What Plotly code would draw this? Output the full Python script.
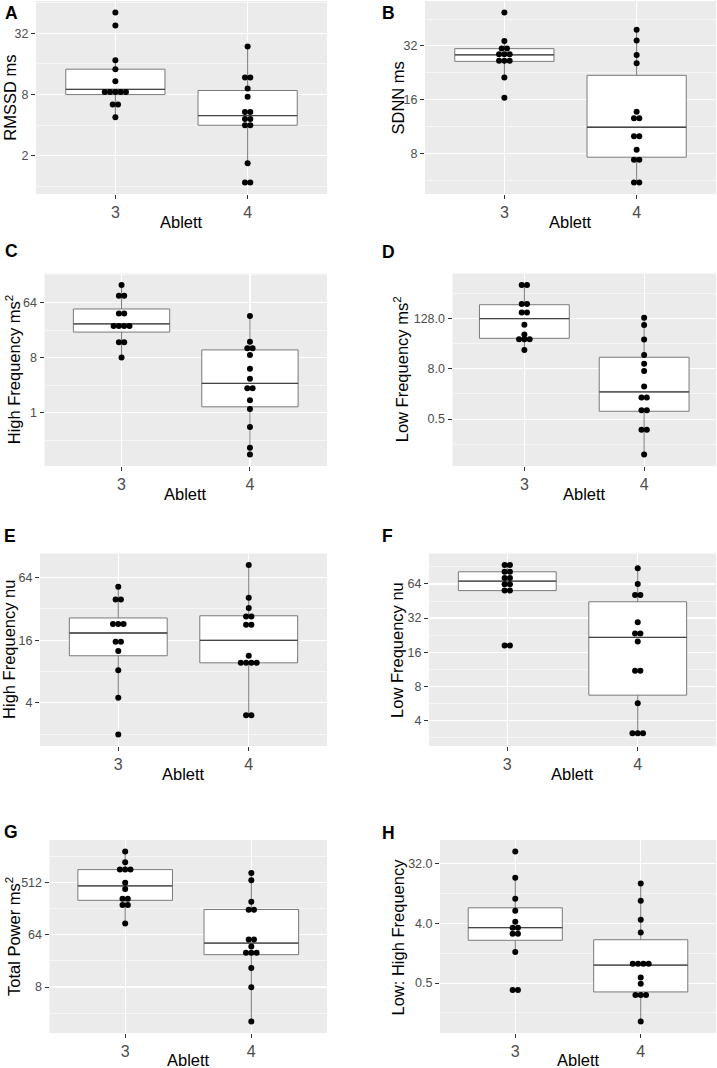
import numpy as np
import plotly.graph_objects as go

W, H = 717, 1068
FONT = "Liberation Sans, Arial, sans-serif"

# ---------------- data ----------------
GROUPS = [3, 4]
XTICKTEXT = ["3", "4"]
XTITLE = "Ablett"
LETTERS = ["A", "B", "C", "D", "E", "F", "G", "H"]
YTITLES = ["RMSSD ms", "SDNN ms", "High Frequency ms<sup>2</sup>",
           "Low Frequency ms<sup>2</sup>", "High Frequency nu",
           "Low Frequency nu", "Total Power ms<sup>2</sup>",
           "Low: High Frequency"]

A3 = [51, 38, 17.4, 14.2, 10.8, 9.0, 9.0, 8.6, 8.3, 8.0, 6.4, 6.4, 4.8]
A4 = [23.7, 11.8, 11.8, 9.2, 7.6, 5.4, 5.4, 4.6, 4.6, 4.0, 4.0, 1.7, 1.1, 1.1]
B3 = [49.2, 34.1, 31.2, 30.8, 29.0, 28.7, 28.4, 26.8, 26.3, 26.0, 21.3, 16.4]
B4 = [39.4, 34.3, 28.5, 25.6, 13.7, 12.6, 12.6, 9.97, 9.97, 8.39, 7.37, 7.37, 5.5, 5.5]
C3 = [123, 82.3, 82.3, 42.3, 42.3, 29.2, 27.9, 26.0, 23.8, 14.2, 14.2, 8.05]
C4 = [38.2, 14.5, 11.4, 11.4, 8.79, 5.25, 3.60, 2.53, 2.53, 1.61, 1.15, 0.583, 0.268, 0.208]
D3 = [803, 803, 305, 262, 178, 178, 90.3, 53.0, 43.7, 40.2, 38.0, 22.4]
D4 = [133, 88.6, 40.3, 17.0, 10.5, 7.04, 3.02, 1.65, 1.65, 0.90, 0.73, 0.278, 0.278, 0.0714]
E3 = [52.1, 39.3, 39.3, 22.8, 22.8, 22.8, 15.4, 15.4, 12.6, 8.24, 4.47, 1.99]
E4 = [84.1, 40.8, 32.5, 27.9, 26.0, 22.5, 22.5, 11.3, 9.69, 9.69, 9.69, 9.69, 3.04, 3.04]
F3 = [94, 94, 82, 82, 72.3, 72.3, 63.6, 63.6, 55.9, 55.9, 18.3, 18.3]
F4 = [88, 64, 51.2, 51.2, 29.4, 23.4, 23.4, 19.9, 10.96, 10.96, 5.65, 3.15, 3.05, 3.0]
G3 = [1769, 1155, 870, 861, 855, 512, 397, 270, 270, 210, 210, 101]
G4 = [754, 562, 240, 178, 169, 53.1, 53.1, 40.1, 34.3, 29.9, 28.8, 17.1, 7.9, 2.03]
H3 = [48.1, 19.4, 9.34, 6.15, 4.2, 3.46, 3.39, 3.03, 2.53, 1.47, 0.392, 0.392]
H4 = [15.9, 8.71, 4.49, 2.89, 1.064, 1.0, 0.966, 0.901, 0.609, 0.489, 0.334, 0.329, 0.325, 0.132]

YTICKS_A = [2, 8, 32];        YLAB_A = ["2", "8", "32"]
YTICKS_B = [8, 16, 32];       YLAB_B = ["8", "16", "32"]
YTICKS_C = [1, 8, 64];        YLAB_C = ["1", "8", "64"]
YTICKS_D = [0.5, 8, 128];     YLAB_D = ["0.5", "8.0", "128.0"]
YTICKS_E = [4, 16, 64];       YLAB_E = ["4", "16", "64"]
YTICKS_F = [4, 8, 16, 32, 64]; YLAB_F = ["4", "8", "16", "32", "64"]
YTICKS_G = [8, 64, 512];      YLAB_G = ["8", "64", "512"]
YTICKS_H = [0.5, 4, 32];      YLAB_H = ["0.5", "4.0", "32.0"]

DATA = [(A3, A4), (B3, B4), (C3, C4), (D3, D4), (E3, E4), (F3, F4), (G3, G4), (H3, H4)]
YTICKS = [YTICKS_A, YTICKS_B, YTICKS_C, YTICKS_D, YTICKS_E, YTICKS_F, YTICKS_G, YTICKS_H]
YLABS = [YLAB_A, YLAB_B, YLAB_C, YLAB_D, YLAB_E, YLAB_F, YLAB_G, YLAB_H]

# ---------------- layout geometry (pixels) ----------------
# plot area: x0, x1, ytop, ybottom
DOM = [(36, 327, 1, 194), (425, 716, 1, 194),
       (44.5, 327, 273.5, 466), (452.5, 716, 273.5, 466),
       (40, 327, 553.5, 746), (429, 716, 553.5, 746),
       (49.5, 327, 840, 1033), (440, 716, 840, 1033)]
YTITLE_X = [9.2, 397, 12.5, 400.5, 9.2, 397.2, 12.5, 397]
XTITLE_Y = [221.7, 221.7, 494, 494, 774.3, 774.3, 1059.5, 1059.5]
LETTER_POS = [(11.7, 12.8), (388, 12.8), (11, 251), (388, 252),
              (10, 535.5), (387, 535.5), (10.8, 832), (388, 832.5)]

BG = "#EBEBEB"
BOXLINE = "#7a7a7a"
MEDLINE = "#454545"
DOT_PX = 5.3
DOT_SIZE = 6
XR = [2.4, 4.6]

fig = go.Figure()
layout = {}
annotations = []

for i, (g3, g4) in enumerate(DATA):
    n = i + 1
    xa, ya = ("x", "y") if n == 1 else (f"x{n}", f"y{n}")
    x0, x1, yt, yb = DOM[i]
    allv = np.log2(np.array(g3 + g4, float))
    lo, hi = allv.min(), allv.max()
    R = hi - lo
    bw = R / 30.0
    pad = R / 60.0 + 0.05 * R * (1 + 1 / 30.0)
    yr = [(lo - pad) * np.log10(2), (hi + pad) * np.log10(2)]
    ppu = (x1 - x0) / (XR[1] - XR[0])
    dx = DOT_PX / ppu

    for g, vals in zip(GROUPS, (g3, g4)):
        lv = np.log2(np.array(vals, float))
        q1, med, q3 = np.percentile(lv, [25, 50, 75])
        iqr = q3 - q1
        up = lv[lv <= q3 + 1.5 * iqr].max()
        low = lv[lv >= q1 - 1.5 * iqr].min()
        fig.add_trace(go.Box(x=[g], q1=[2 ** q1], median=[2 ** med], q3=[2 ** q3],
                             lowerfence=[2 ** low], upperfence=[2 ** up],
                             orientation="v", width=0.75, fillcolor="white",
                             line=dict(color=BOXLINE, width=1), whiskerwidth=0,
                             boxpoints=False, xaxis=xa, yaxis=ya,
                             showlegend=False, hoverinfo="skip"))
        fig.add_trace(go.Scatter(x=[g - 0.375, g + 0.375], y=[2 ** med, 2 ** med],
                                 mode="lines", line=dict(color=MEDLINE, width=1.3),
                                 xaxis=xa, yaxis=ya, showlegend=False, hoverinfo="skip"))
        # dot-density binning (as ggplot geom_dotplot, binaxis = y, stackdir = center)
        srt = np.sort(lv)
        bins, end = [], -np.inf
        for v in srt:
            if v >= end:
                bins.append([v])
                end = v + bw
            else:
                bins[-1].append(v)
        xs, ys = [], []
        for b in bins:
            c = (min(b) + max(b)) / 2
            m = len(b)
            for k in range(m):
                xs.append(g + (k - (m - 1) / 2) * dx)
                ys.append(2 ** c)
        fig.add_trace(go.Scatter(x=xs, y=ys, mode="markers",
                                 marker=dict(size=DOT_SIZE, color="black", line=dict(width=0)),
                                 xaxis=xa, yaxis=ya, showlegend=False, hoverinfo="skip",
                                 cliponaxis=False))

    majors = np.log2(np.array(YTICKS[i], float))
    step = majors[1] - majors[0]
    ext = np.concatenate([[majors[0] - step], majors, [majors[-1] + step]])
    minors = [2 ** ((a + b) / 2) for a, b in zip(ext[:-1], ext[1:])]

    layout[f"xaxis{n if n > 1 else ''}"] = dict(
        domain=[x0 / W, x1 / W], range=XR, anchor=ya, tickmode="array",
        tickvals=GROUPS, ticktext=XTICKTEXT, showgrid=True, gridcolor="white",
        gridwidth=1.1, zeroline=False, showline=False, ticks="outside", ticklen=4,
        tickwidth=1, tickcolor="#333333",
        tickfont=dict(family=FONT, size=16, color="#4D4D4D"), fixedrange=True)
    layout[f"yaxis{n if n > 1 else ''}"] = dict(
        domain=[1 - yb / H, 1 - yt / H], type="log", range=yr, anchor=xa,
        tickmode="array", tickvals=YTICKS[i], ticktext=YLABS[i],
        showgrid=True, gridcolor="white", gridwidth=1.1, zeroline=False,
        showline=False, ticks="outside", ticklen=4, tickwidth=1, tickcolor="#333333",
        tickfont=dict(family=FONT, size=12.5, color="#4D4D4D"),
        minor=dict(tickmode="array", tickvals=minors, showgrid=True,
                   gridcolor="white", gridwidth=0.55, ticks=""),
        fixedrange=True)

    cy = (yt + yb) / 2
    annotations.append(dict(text=YTITLES[i], x=YTITLE_X[i] / W, y=1 - cy / H,
                            xref="paper", yref="paper", xanchor="center", yanchor="middle",
                            textangle=-90, showarrow=False,
                            font=dict(family=FONT, size=16.5, color="black")))
    annotations.append(dict(text=XTITLE, x=(x0 + x1) / 2 / W, y=1 - XTITLE_Y[i] / H,
                            xref="paper", yref="paper", xanchor="center", yanchor="middle",
                            showarrow=False, font=dict(family=FONT, size=16.5, color="black")))
    lx, ly = LETTER_POS[i]
    annotations.append(dict(text=f"<b>{LETTERS[i]}</b>", x=lx / W, y=1 - ly / H,
                            xref="paper", yref="paper", xanchor="center", yanchor="middle",
                            showarrow=False, font=dict(family=FONT, size=17.5, color="black")))

fig.update_layout(width=W, height=H, margin=dict(l=0, r=0, t=0, b=0),
                  paper_bgcolor="white", plot_bgcolor=BG, showlegend=False,
                  boxmode="overlay", annotations=annotations,
                  font=dict(family=FONT), **layout)

fig.write_html("out.html", config={"displayModeBar": False, "staticPlot": True},
               post_script="document.body.style.margin='0px';document.body.style.padding='0px';")
